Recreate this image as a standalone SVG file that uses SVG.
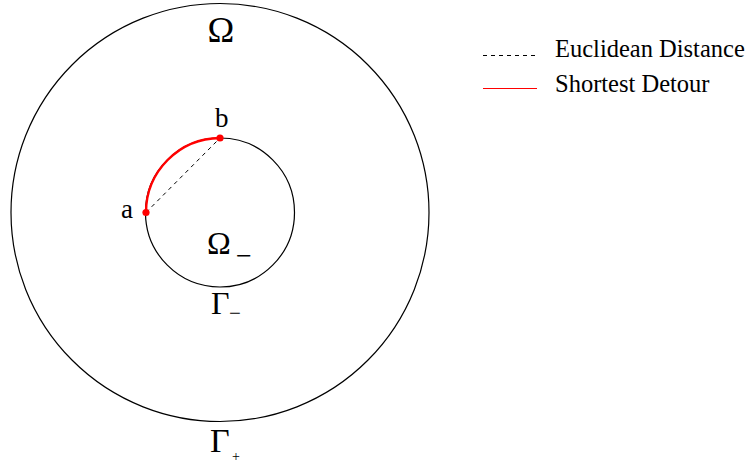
<svg xmlns="http://www.w3.org/2000/svg" width="752" height="464" viewBox="0 0 752 464">
<style>
.c{fill:none;stroke:#000;stroke-width:1.2}
.t{font-family:"Liberation Serif","Times New Roman",serif;fill:#000}
.dash{stroke:#000;stroke-width:1;stroke-dasharray:4,4;fill:none}
.red{stroke:#f00;fill:none}
</style>
<rect width="752" height="464" fill="#fff"/>
<g id="outer">
<circle class="c" cx="220" cy="212.5" r="209"/>
<text class="t" x="221" y="42" font-size="36" text-anchor="middle">Ω</text>
<text class="t" x="210" y="452" font-size="34">Γ</text>
<text class="t" x="232" y="460.5" font-size="14">+</text>
</g>
<g id="inner">
<circle class="c" cx="220" cy="212.5" r="74.5"/>
<text class="t" x="207" y="254" font-size="32">Ω</text>
<text class="t" x="236" y="265" font-size="28">−</text>
<text class="t" x="211" y="314" font-size="32">Γ</text>
<text class="t" x="229" y="320" font-size="21">−</text>
</g>
<g id="connectors">
<line class="dash" x1="146" y1="212.5" x2="220" y2="138"/>
<path class="red" stroke-width="2.4" d="M146,212.5 A74.5,74.5 0 0 1 220,138"/>
</g>
<g id="point-a">
<circle cx="146" cy="212.5" r="3.6" fill="#f00"/>
<text class="t" x="121" y="218" font-size="27">a</text>
</g>
<g id="point-b">
<circle cx="220" cy="138" r="3.6" fill="#f00"/>
<text class="t" x="215" y="127" font-size="27">b</text>
</g>
<g id="legend">
<line class="dash" x1="483" y1="55.5" x2="537" y2="55.5" stroke-dasharray="5,4"/>
<text class="t" x="555" y="57" font-size="24.5">Euclidean Distance</text>
<line class="red" x1="483" y1="88.5" x2="537" y2="88.5" stroke-width="1.2" stroke="#ff4040"/>
<text class="t" x="555" y="92" font-size="24.5">Shortest Detour</text>
</g>
</svg>
